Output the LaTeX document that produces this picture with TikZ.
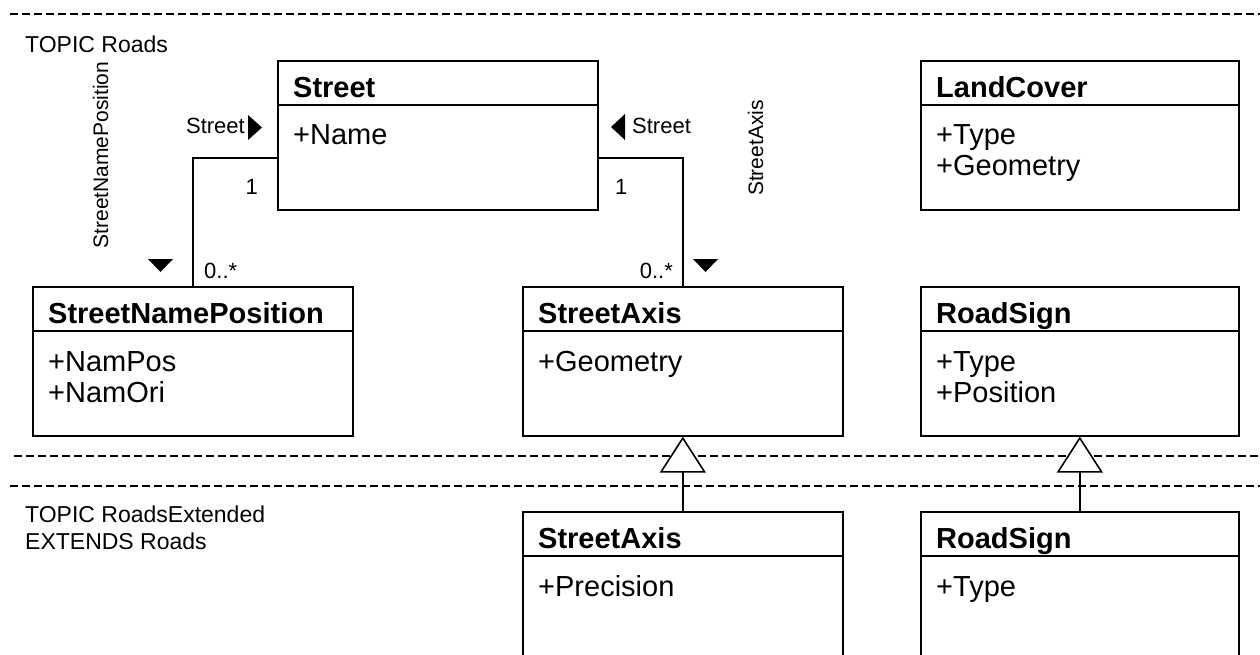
\documentclass[tikz,border=0pt]{standalone}
\usepackage{fontspec}
\setmainfont{Liberation Sans}
\usetikzlibrary{positioning,arrows.meta}
\tikzstyle{classbox} = [draw, line width=1.6pt, minimum width=320pt, minimum height=149pt, inner sep=0pt, anchor=north west]
\tikzstyle{classname} = [anchor=base west, inner sep=0pt, font=\bfseries\fontsize{29}{31}\selectfont]
\tikzstyle{attrib} = [anchor=base west, inner sep=0pt, align=left, font=\fontsize{29}{31}\selectfont]
\tikzstyle{smalltext} = [inner sep=0pt, font=\fontsize{22}{25}\selectfont]
\tikzstyle{sidetext} = [inner sep=0pt, rotate=90, anchor=base, font=\fontsize{21}{25}\selectfont]
\tikzstyle{topictext} = [anchor=base west, inner sep=0pt, align=left, font=\fontsize{23}{27}\selectfont]
\tikzstyle{topicline} = [line width=2.2pt, dash pattern=on 8pt off 4pt]
\tikzstyle{assocline} = [line width=1.6pt]
\tikzstyle{genline} = [line width=1.6pt, -{Triangle[length=36pt, width=46pt, fill=white]}]

\begin{document}
\begin{tikzpicture}[x=1pt,y=1pt]
\useasboundingbox (0,0) rectangle (1260,-654);
\clip (0,0) rectangle (1260,-654);

% topic borders
\draw[topicline] (10,-14) -- (1262,-14);
\draw[topicline] (14,-456) -- (1262,-456);
\draw[topicline] (10,-486) -- (1262,-486);

% multi-line nodes sit on the baseline of their last line
\node[topictext] (roads) at (25,-52) {TOPIC Roads};
\node[topictext] (roadsext) at (25,-549) {TOPIC RoadsExtended\\EXTENDS Roads};

% classes
\node[classbox] (street) at (277,-60) {};
\node[classbox, minimum width=318pt] (landcover) at (920,-60) {};
\node[classbox] (snp) at (32,-286) {};
\node[classbox] (axis) at (522,-286) {};
\node[classbox, minimum width=318pt] (sign) at (920,-286) {};
\node[classbox, minimum height=170pt] (axisx) at (522,-511) {};
\node[classbox, minimum width=318pt, minimum height=170pt] (signx) at (920,-511) {};

\foreach \c in {street,landcover,snp,axis,sign,axisx,signx}
  \draw[assocline] ([yshift=-45pt]\c.north west) -- ([yshift=-45pt]\c.north east);

\node[classname] (streetname) at ([xshift=16pt,yshift=-37pt]street.north west) {Street};
\node[attrib] (streetattr) at ([xshift=16pt,yshift=-84pt]street.north west) {+Name};
\node[classname] (lcname) at ([xshift=16pt,yshift=-37pt]landcover.north west) {LandCover};
\node[attrib] (lcattr) at ([xshift=16pt,yshift=-115pt]landcover.north west) {+Type\\+Geometry};
\node[classname] (snpname) at ([xshift=16pt,yshift=-37pt]snp.north west) {StreetNamePosition};
\node[attrib] (snpattr) at ([xshift=16pt,yshift=-116pt]snp.north west) {+NamPos\\+NamOri};
\node[classname] (axisname) at ([xshift=16pt,yshift=-37pt]axis.north west) {StreetAxis};
\node[attrib] (axisattr) at ([xshift=16pt,yshift=-85pt]axis.north west) {+Geometry};
\node[classname] (signname) at ([xshift=16pt,yshift=-37pt]sign.north west) {RoadSign};
\node[attrib] (signattr) at ([xshift=16pt,yshift=-116pt]sign.north west) {+Type\\+Position};
\node[classname] (axisxname) at ([xshift=16pt,yshift=-37pt]axisx.north west) {StreetAxis};
\node[attrib] (axisxattr) at ([xshift=16pt,yshift=-85pt]axisx.north west) {+Precision};
\node[classname] (signxname) at ([xshift=16pt,yshift=-37pt]signx.north west) {RoadSign};
\node[attrib] (signxattr) at ([xshift=16pt,yshift=-85pt]signx.north west) {+Type};

% associations
\draw[assocline] ([yshift=-98pt]street.north west) -| (snp.north);
\draw[assocline] ([yshift=-98pt]street.north east) -| (axis.north);

\node[smalltext, anchor=base east] (roleL) at (245,-133) {Street};
\fill (248,-115) -- (262,-127.5) -- (248,-140) -- cycle;
\node[smalltext, anchor=base west] (roleR) at (632,-133) {Street};
\fill (625,-114) -- (611,-127) -- (625,-140) -- cycle;
\node[smalltext, anchor=base east] (multL1) at (258,-194) {1};
\node[smalltext, anchor=base west] (multLn) at (204,-278) {0..*};
\node[smalltext, anchor=base west] (multR1) at (615,-194) {1};
\node[smalltext, anchor=base east] (multRn) at (673,-278) {0..*};

\node[sidetext] (assocL) at (108,-155) {StreetNamePosition};
\fill (148,-259) -- (173,-259) -- (160.5,-272) -- cycle;
\node[sidetext] (assocR) at (763,-148) {StreetAxis};
\fill (693,-259) -- (718,-259) -- (705.5,-272) -- cycle;

% inheritance
\draw[genline] (axisx.north) -- (axis.south);
\draw[genline] (signx.north) -- (sign.south);

\end{tikzpicture}
\end{document}
